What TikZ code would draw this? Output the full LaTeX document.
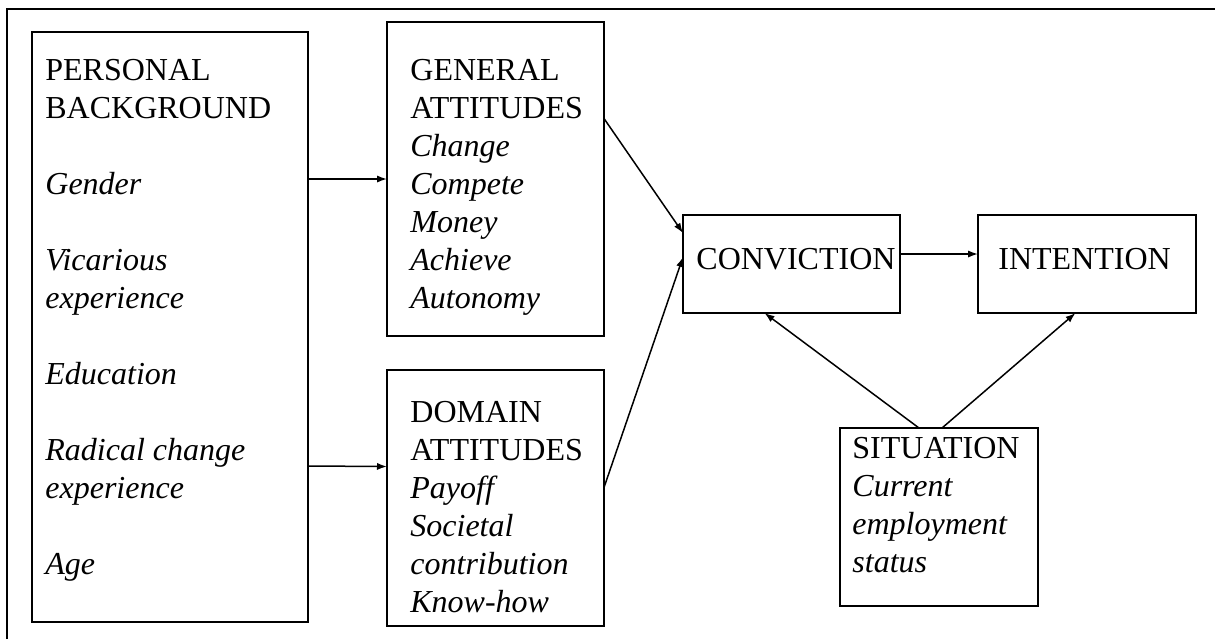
\documentclass[tikz,border=0pt]{standalone}
\usepackage{fontspec}
\setmainfont{Liberation Serif}
\usepackage{tikz}
\usetikzlibrary{arrows.meta}

\begin{document}
\begin{tikzpicture}[x=0.5pt,y=-0.5pt,
    box/.style={draw,line width=1pt,inner sep=0pt,outer sep=0pt,anchor=north west},
    txt/.style={align=left,inner sep=0pt,anchor=north west,font=\fontsize{16pt}{19pt}\selectfont},
    arr/.style={-{Latex[length=5pt,width=3.6pt]},line width=0.75pt}]
    \useasboundingbox (0,0) rectangle (1215,639);
    \draw[line width=1.25pt] (7,639) -- (7,9) -- (1215,9);

    \node[box,minimum width=138pt,minimum height=295pt] (PB) at (32,32) {};
    \node[box,minimum width=108.5pt,minimum height=157pt] (GA) at (387,22) {};
    \node[box,minimum width=108.5pt,minimum height=128pt] (DA) at (387,370) {};
    \node[box,minimum width=108.5pt,minimum height=49pt] (CV) at (683,215) {};
    \node[box,minimum width=109pt,minimum height=49pt] (IN) at (978,215) {};
    \node[box,minimum width=99pt,minimum height=89pt] (SI) at (840,428) {};

    \node[txt] (PBt) at (45,58.5) {PERSONAL\\BACKGROUND\\[19pt]\textit{Gender}\\[19pt]\textit{Vicarious}\\\textit{experience}\\[19pt]\textit{Education}\\[19pt]\textit{Radical change}\\\textit{experience}\\[19pt]\textit{Age}};
    \node[txt] (GAt) at (410,58.5) {GENERAL\\ATTITUDES\\\textit{Change}\\\textit{Compete}\\\textit{Money}\\\textit{Achieve}\\\textit{Autonomy}};
    \node[txt] (DAt) at (410,400.5) {DOMAIN\\ATTITUDES\\\textit{Payoff}\\\textit{Societal}\\\textit{contribution}\\\textit{Know-how}};
    \node[txt] (CVt) at (696,247.5) {CONVICTION};
    \node[txt] (INt) at (998,247.5) {INTENTION};
    \node[txt] (SIt) at (852,436.5) {SITUATION\\\textit{Current}\\\textit{employment}\\\textit{status}};

    \draw[arr] (PB.east |- GA.west) -- (GA.west);
    \draw[arr] ([yshift=-69.5pt]PB.east) -- ([yshift=15.75pt]DA.west);
    \draw[arr] ([yshift=30.25pt]GA.east) -- ([yshift=15.5pt]CV.west);
    \draw[arr] ([yshift=5.25pt]DA.east) -- ([yshift=3.5pt]CV.west);
    \draw[arr] ([yshift=5pt]CV.east) -- ([yshift=5pt]IN.west);
    \draw[arr] ([xshift=-10pt]SI.north) -- ([xshift=-13.5pt]CV.south);
    \draw[arr] ([xshift=1.5pt]SI.north) -- ([xshift=-5.75pt]IN.south);
\end{tikzpicture}
\end{document}
